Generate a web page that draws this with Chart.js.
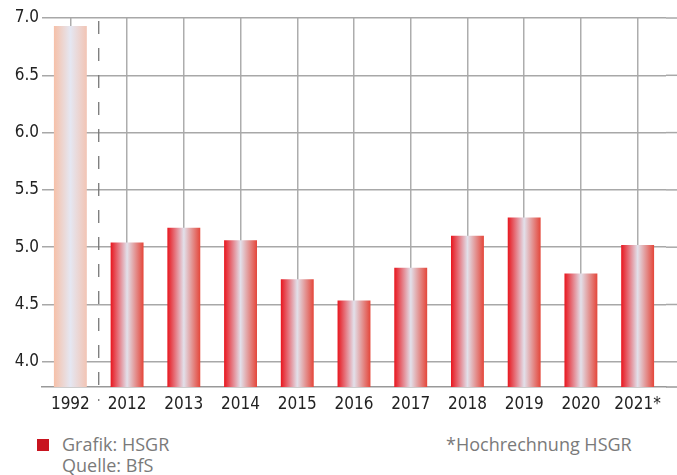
<!DOCTYPE html>
<html>
<head>
<meta charset="utf-8">
<script src="https://cdn.jsdelivr.net/npm/chart.js@4.4.1/dist/chart.umd.min.js"></script>
<style>
  body { margin: 0; background: #fff; width: 677px; height: 475px; overflow: hidden; position: relative; }
  #wrap { position: absolute; left: 0; top: 0; width: 677px; height: 420px; }
  .foot { position: absolute; font-family: "Open Sans", "DejaVu Sans", sans-serif; font-size: 18px; color: #7a7a7a; line-height: 21px; }
  .sq { position: absolute; left: 37px; top: 439px; width: 12px; height: 12px; background: #c8141f; }
</style>
</head>
<body>
<div id="wrap"><canvas id="chart" width="677" height="420"></canvas></div>
<div class="sq"></div>
<div class="foot" style="left:62px; top:434px;">Grafik: HSGR<br>Quelle: BfS</div>
<div class="foot" style="left:446px; top:434px;">*Hochrechnung HSGR</div>
<script>
// categories and values
const years = ["1992", "2012", "2013", "2014", "2015", "2016", "2017", "2018", "2019", "2020", "2021*"];
const values = [6.93, 5.04, 5.17, 5.06, 4.72, 4.535, 4.82, 5.10, 5.26, 4.77, 5.02];
const yMin = 3.78;
const yMax = 7.0;

const tickFont = { family: "'Liberation Sans Narrow', 'DejaVu Sans Condensed', sans-serif", size: 17 };

// bar gradient: red edges with a pale middle, the 1992 bar in light peach
function barFill(c) {
  const chart = c.chart;
  const xs = chart.scales.x;
  if (!xs || c.type !== 'data') return '#e33';
  const cx = xs.getPixelForValue(c.dataIndex);
  const w = (xs.width / years.length) * 0.58;
  if (!isFinite(cx) || !isFinite(w) || w <= 0) return '#e33';
  const g = chart.ctx.createLinearGradient(cx - w / 2, 0, cx + w / 2, 0);
  if (c.dataIndex === 0) {
    g.addColorStop(0, '#f6c0a8');
    g.addColorStop(0.5, '#e5e7f2');
    g.addColorStop(1, '#f2c4b4');
  } else {
    g.addColorStop(0, '#e8161e');
    g.addColorStop(0.5, '#e2e0ea');
    g.addColorStop(1, '#e4463a');
  }
  return g;
}

// dashed separator between 1992 and 2012, and gridlines running out to the right edge
const extras = {
  id: 'extras',
  beforeDatasetsDraw(chart) {
    const { ctx, chartArea, scales } = chart;
    const x = (scales.x.getPixelForValue(0) + scales.x.getPixelForValue(1)) / 2;
    ctx.save();
    ctx.strokeStyle = '#777';
    ctx.lineWidth = 1.3;
    ctx.setLineDash([13, 14]);
    ctx.beginPath();
    ctx.moveTo(x, chartArea.top + 3);
    ctx.lineTo(x, chartArea.bottom + 14);
    ctx.stroke();
    ctx.setLineDash([]);
    ctx.strokeStyle = '#a8a8a8';
    ctx.lineWidth = 1.5;
    scales.y.ticks.forEach(t => {
      const y = scales.y.getPixelForValue(t.value);
      ctx.beginPath();
      ctx.moveTo(chartArea.right, y);
      ctx.lineTo(chart.width, y);
      ctx.stroke();
    });
    ctx.strokeStyle = '#999';
    ctx.beginPath();
    ctx.moveTo(chartArea.right, chartArea.bottom);
    ctx.lineTo(chart.width, chartArea.bottom);
    ctx.stroke();
    ctx.restore();
  }
};

new Chart(document.getElementById('chart'), {
  type: 'bar',
  data: {
    labels: years,
    datasets: [{
      data: values,
      backgroundColor: barFill,
      borderWidth: 0,
      categoryPercentage: 1,
      barPercentage: 0.58
    }]
  },
  options: {
    responsive: false,
    devicePixelRatio: 1,
    animation: false,
    layout: { padding: { top: 18, right: 11, left: 0, bottom: 0 } },
    plugins: { legend: { display: false }, tooltip: { enabled: false } },
    scales: {
      x: {
        grid: { offset: false, drawTicks: false, color: '#adadad', lineWidth: 1.5 },
        border: { display: true, color: '#999', width: 1.5 },
        ticks: { font: tickFont, color: '#222', padding: 7, autoSkip: false, maxRotation: 0 },
        afterFit(s) { s.height = 33; }
      },
      y: {
        min: yMin,
        max: yMax,
        grid: { drawTicks: false, color: '#a8a8a8', lineWidth: 1.5 },
        border: { display: false },
        ticks: {
          stepSize: 0.5,
          includeBounds: false,
          font: tickFont,
          color: '#222',
          padding: 3,
          callback: v => v.toFixed(1)
        },
        afterFit(s) { s.width = 42; }
      }
    }
  },
  plugins: [extras]
});
</script>
</body>
</html>
